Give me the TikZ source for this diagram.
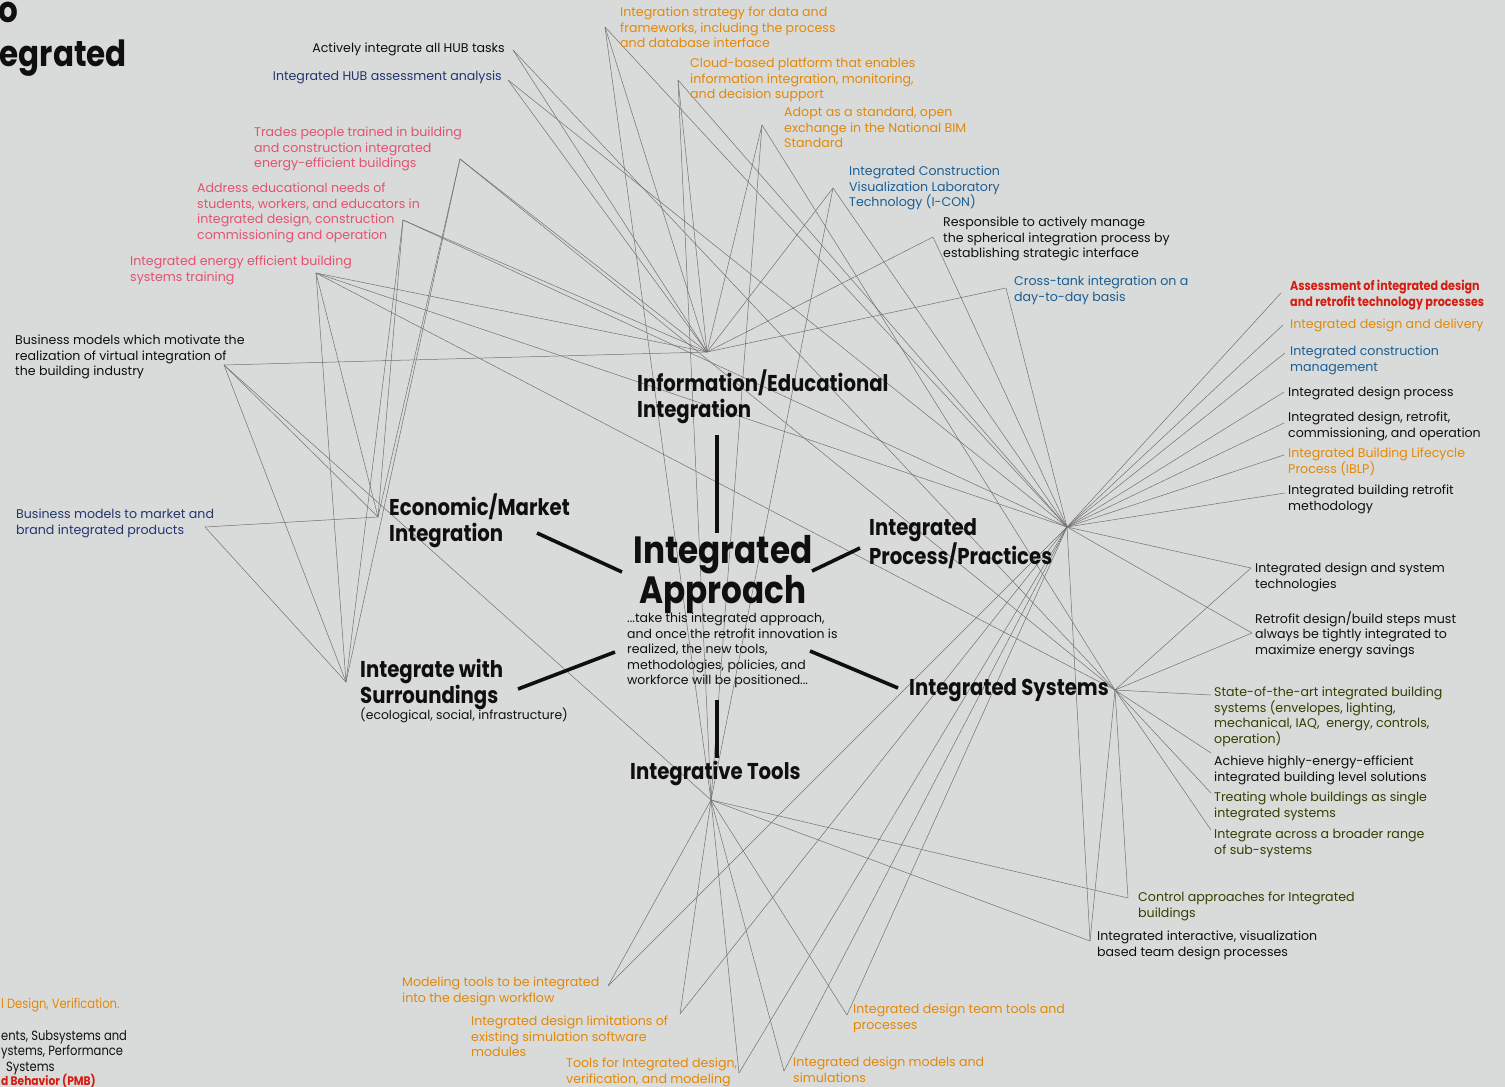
\documentclass[tikz,border=0pt]{standalone}
\usepackage{fontspec}
\setmainfont{Poppins}
\newfontfamily\headfont{Poppins}[FakeStretch=0.86]
\definecolor{bg}{RGB}{217,219,218}
\definecolor{webgray}{RGB}{112,112,112}
\definecolor{ink}{RGB}{15,15,15}
\definecolor{amber}{RGB}{226,136,8}
\definecolor{rose}{RGB}{228,82,112}
\definecolor{scarlet}{RGB}{214,28,16}
\definecolor{steel}{RGB}{26,94,148}
\definecolor{navy}{RGB}{34,54,110}
\definecolor{olive}{RGB}{52,62,0}
\tikzset{
  web/.style={draw=webgray, line width=0.5pt},
  spoke/.style={draw=ink, line width=3.6pt},
  item/.style={anchor=north west, inner sep=0pt, align=left,
    font=\fontsize{12.6}{15.5}\selectfont},
  edgetext/.style={anchor=base west, inner sep=0pt,
    font=\headfont\fontsize{13.4}{15.5}\selectfont},
  head/.style={anchor=north west, inner sep=0pt, align=left, text=ink,
    font=\headfont\bfseries\fontsize{22.9}{25.5}\selectfont},
}
\begin{document}
\begin{tikzpicture}[x=1pt, y=-1pt]
\useasboundingbox (0,0) rectangle (1505,1087);
\fill[bg] (0,0) rectangle (1505,1087);

% hubs of the web
\coordinate (hI) at (707,352);
\coordinate (hP) at (1067,527);
\coordinate (hS) at (1115,690);
\coordinate (hT) at (711,800);
\coordinate (hE) at (378,517);
\coordinate (hU) at (346,682);

% attachment points of the statements
\coordinate (vHUBtasks) at (513,50);
\coordinate (vHUBassess) at (508,80);
\coordinate (vTrades) at (460,159);
\coordinate (vAddress) at (403,220);
\coordinate (vEnergy) at (316,273);
\coordinate (vBizMot) at (224,365);
\coordinate (vBizMkt) at (205,527);
\coordinate (vStrategy) at (605,27);
\coordinate (vCloud) at (678,80);
\coordinate (vAdopt) at (762,125);
\coordinate (vICON) at (833,188);
\coordinate (vResp) at (933,237);
\coordinate (vCross) at (1006,288);
\coordinate (vAssess) at (1281,293);
\coordinate (vIDD) at (1283,325);
\coordinate (vICM) at (1285,353);
\coordinate (vIDP) at (1284,392);
\coordinate (vIDR) at (1284,423);
\coordinate (vIBLP) at (1284,455);
\coordinate (vIBRM) at (1285,493);
\coordinate (vDST) at (1251,568);
\coordinate (vRDB) at (1252,633);
\coordinate (vSOTA) at (1211,695);
\coordinate (vAchieve) at (1211,753);
\coordinate (vTreating) at (1211,793);
\coordinate (vAcross) at (1211,830);
\coordinate (vControl) at (1128,898);
\coordinate (vInter) at (1090,941);
\coordinate (vTeam) at (847,1015);
\coordinate (vModels) at (784,1071);
\coordinate (vToolsFor) at (739,1073);
\coordinate (vLimits) at (680,1014);
\coordinate (vModeling) at (608,986);

% the web of thin links
\foreach \v in {vStrategy,vCloud,vAdopt,vICON,vResp,vCross,vHUBtasks,vHUBassess,vTrades,vAddress,vEnergy,vBizMot}
  \draw[web] (hI) -- (\v);
\foreach \v in {vAssess,vIDD,vICM,vIDP,vIDR,vIBLP,vIBRM,vDST,vRDB,vStrategy,vCloud,vICON,vResp,vCross,vEnergy,vAddress,vHUBassess,vModeling,vLimits,vToolsFor,vModels,vTeam,vInter}
  \draw[web] (hP) -- (\v);
\foreach \v in {vDST,vRDB,vSOTA,vAchieve,vTreating,vAcross,vControl,vInter,vAdopt,vTrades,vEnergy,vHUBtasks}
  \draw[web] (hS) -- (\v);
\foreach \v in {vStrategy,vCloud,vAdopt,vICON,vBizMot,vModeling,vLimits,vToolsFor,vModels,vTeam,vControl,vInter}
  \draw[web] (hT) -- (\v);
\foreach \v in {vBizMot,vBizMkt,vEnergy,vAddress,vTrades}
  \draw[web] (hE) -- (\v);
\foreach \v in {vBizMot,vBizMkt,vEnergy,vAddress,vTrades}
  \draw[web] (hU) -- (\v);

% heading fragments at the left edge
\node[anchor=base east, inner sep=0pt, text=ink, font=\headfont\bfseries\fontsize{36}{36}\selectfont] (ttlA) at (18,22) {o};
\node[anchor=base east, inner sep=0pt, text=ink, font=\headfont\bfseries\fontsize{36}{36}\selectfont] (ttlB) at (127,66) {egrated};

% statements, upper left
\node[item, anchor=north east, text=ink] (hubtasks) at (505,43) {Actively integrate all HUB tasks};
\node[item, anchor=north east, text=navy] (hubassess) at (502,71) {Integrated HUB assessment analysis};
\node[item, text=rose] (trades) at (254,127) {Trades people trained in building\\and construction integrated\\energy-efficient buildings};
\node[item, text=rose] (address) at (197,183) {Address educational needs of\\students, workers, and educators in\\integrated design, construction\\commissioning and operation};
\node[item, text=rose] (energy) at (130,256) {Integrated energy efficient building\\systems training};
\node[item, text=ink] (bizmot) at (15,335) {Business models which motivate the\\realization of virtual integration of\\the building industry};
\node[item, text=navy] (bizmkt) at (16,509) {Business models to market and\\brand integrated products};

% statements, top
\node[item, text=amber] (strategy) at (620,7) {Integration strategy for data and\\frameworks, including the process\\and database interface};
\node[item, text=amber] (cloud) at (690,58) {Cloud-based platform that enables\\information integration, monitoring,\\and decision support};
\node[item, text=amber] (adopt) at (784,107) {Adopt as a standard, open\\exchange in the National BIM\\Standard};
\node[item, text=steel] (icon) at (849,166) {Integrated Construction\\Visualization Laboratory\\Technology (I-CON)};
\node[item, text=ink] (resp) at (943,217) {Responsible to actively manage\\the spherical integration process by\\establishing strategic interface};
\node[item, text=steel] (cross) at (1014,276) {Cross-tank integration on a\\day-to-day basis};

% statements, right
\node[item, text=scarlet, font=\headfont\bfseries\fontsize{13}{15.5}\selectfont] (assess) at (1290,280) {Assessment of integrated design\\and retrofit technology processes};
\node[item, text=amber] (idd) at (1290,319) {Integrated design and delivery};
\node[item, text=steel] (icm) at (1290,346) {Integrated construction\\management};
\node[item, text=ink] (idp) at (1288,387) {Integrated design process};
\node[item, text=ink] (idr) at (1288,412) {Integrated design, retrofit,\\commissioning, and operation};
\node[item, text=amber] (iblp) at (1288,448) {Integrated Building Lifecycle\\Process (IBLP)};
\node[item, text=ink] (ibrm) at (1288,485) {Integrated building retrofit\\methodology};
\node[item, text=ink] (dst) at (1255,563) {Integrated design and system\\technologies};
\node[item, text=ink] (rdb) at (1255,611) {Retrofit design/build steps must\\always be tightly integrated to\\maximize energy savings};
\node[item, text=olive] (sota) at (1214,687) {State-of-the-art integrated building\\systems (envelopes, lighting,\\mechanical, IAQ,\ \ energy, controls,\\operation)};
\node[item, text=ink] (achieve) at (1214,756) {Achieve highly-energy-efficient\\integrated building level solutions};
\node[item, text=olive] (treating) at (1214,792) {Treating whole buildings as single\\integrated systems};
\node[item, text=olive] (across) at (1214,829) {Integrate across a broader range\\of sub-systems};
\node[item, text=olive] (control) at (1138,892) {Control approaches for Integrated\\buildings};
\node[item, text=ink] (inter) at (1097,931) {Integrated interactive, visualization\\based team design processes};

% statements, bottom
\node[item, text=amber] (team) at (853,1004) {Integrated design team tools and\\processes};
\node[item, text=amber] (models) at (793,1057) {Integrated design models and\\simulations};
\node[item, text=amber] (toolsfor) at (566,1058) {Tools for Integrated design,\\verification, and modeling};
\node[item, text=amber] (limits) at (471,1016) {Integrated design limitations of\\existing simulation software\\modules};
\node[item, text=amber] (modeling) at (402,977) {Modeling tools to be integrated\\into the design workflow};

% fragments at the lower left edge
\node[edgetext, text=amber] (fragA) at (1,1008) {l Design, Verification.};
\node[edgetext, text=ink] (fragB) at (1,1040) {ents, Subsystems and};
\node[edgetext, text=ink] (fragC) at (1,1055) {ystems, Performance};
\node[edgetext, text=ink] (fragD) at (6,1071) {Systems};
\node[edgetext, text=scarlet, font=\headfont\bfseries\fontsize{12.4}{15.5}\selectfont] (fragE) at (1,1085) {d Behavior (PMB)};

% the six directions
\node[head] (info) at (637,370) {Information/Educational\\Integration};
\node[head] (econ) at (389,494) {Economic/Market\\Integration};
\node[head] (proc) at (869,518) {Integrated\\Process/Practices};
\node[head] (surr) at (360,659) {Integrate with\\Surroundings};
\node[item, text=ink, font=\fontsize{12.4}{15}\selectfont] (surrsub) at (360,708) {(ecological, social, infrastructure)};
\node[head] (sys) at (909,678) {Integrated Systems};
\node[head] (tools) at (630,761) {Integrative Tools};

% centre
\node[anchor=north, inner sep=0pt, align=center, text=ink,
  font=\headfont\bfseries\fontsize{38}{40}\selectfont] (core) at (723,535) {Integrated\\Approach};
\node[item, text=ink, font=\fontsize{12.5}{15.5}\selectfont] (coretext) at (627,613) {...take this integrated approach,\\and once the retrofit innovation is\\realized, the new tools,\\methodologies, policies, and\\workforce will be positioned...};

% heavy spokes from the centre
\coordinate (s1a) at (717,435); \coordinate (s1b) at (717,533);
\coordinate (s2a) at (537,533); \coordinate (s2b) at (622,572);
\coordinate (s3a) at (812,571); \coordinate (s3b) at (860,548);
\coordinate (s4a) at (518,689); \coordinate (s4b) at (615,652);
\coordinate (s5a) at (810,651); \coordinate (s5b) at (898,688);
\coordinate (s6a) at (717,700); \coordinate (s6b) at (717,758);
\foreach \a/\b in {s1a/s1b,s2a/s2b,s3a/s3b,s4a/s4b,s5a/s5b,s6a/s6b}
  \draw[spoke] (\a) -- (\b);
\end{tikzpicture}
\end{document}
